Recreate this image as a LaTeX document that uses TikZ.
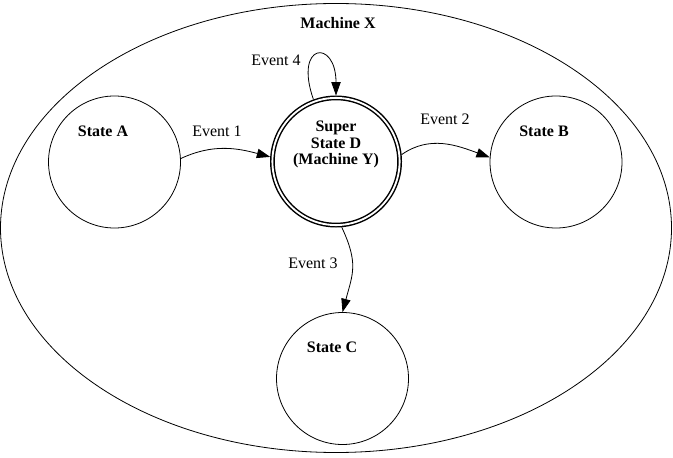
\documentclass[tikz,border=0pt]{standalone}
\usepackage{fontspec}
\setmainfont{Liberation Serif}
\usetikzlibrary{arrows.meta,calc,positioning}

\begin{document}
\begin{tikzpicture}[x=0.75pt,y=0.75pt, every node/.style={font=\fontsize{12}{12.5}\selectfont},
    state/.style={draw, circle, line width=0.6pt, minimum size=99pt, inner sep=0pt},
    superstate/.style={draw, circle, double, line width=1.1pt, double distance=1.4pt, minimum size=95.4pt, inner sep=0pt, outer sep=1.8pt},
    statename/.style={font=\fontsize{12}{12.5}\selectfont\bfseries, align=center},
    event/.style={inner sep=1pt},
    trans/.style={-{Triangle[length=10pt,width=7pt]}, line width=0.6pt}]
  \useasboundingbox (0,0) rectangle (673,457);
  \draw[line width=0.6pt] (336,229) ellipse [x radius=335.5, y radius=224.5];
  \node[statename] (lblX) at (338,434) {Machine X};

  \node[state] (A) at (114.5,295) {};
  \node[superstate] (D) at (336,295.5) {};
  \node[state] (B) at (556,295) {};
  \node[state] (C) at (342.5,78.5) {};

  \node[statename] (lblA) at ($(A)+(-11.5,31)$) {State A};
  \node[statename] (lblD) at ($(D)+(0,17)$) {Super\\State D\\(Machine Y)};
  \node[statename] (lblB) at ($(B)+(-12,31)$) {State B};
  \node[statename] (lblC) at ($(C)+(-10.5,31.5)$) {State C};

  \draw[trans] (A.3) to[out=25,in=165] (D.176);
  \draw[trans] (D.6) to[out=35,in=160] (B.176);
  \draw[trans] (D.-85) to[out=-65,in=75,looseness=1.2] (C.90);
  \draw[trans] (D.110) .. controls +(-20,57) and +(0,57) .. (D.90);

  \node[event] (e1) at (217,326) {Event 1};
  \node[event] (e2) at (445,338) {Event 2};
  \node[event] (e3) at (313,194) {Event 3};
  \node[event] (e4) at (276,397) {Event 4};
\end{tikzpicture}
\end{document}
